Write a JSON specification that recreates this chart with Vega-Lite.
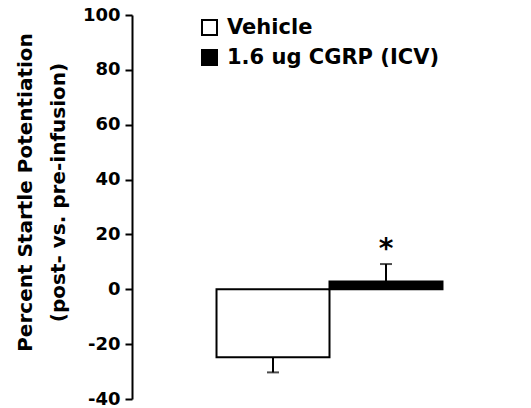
{
  "$schema": "https://vega.github.io/schema/vega-lite/v6.json",
  "width": 395,
  "height": 384,
  "autosize": "none",
  "padding": {"left": 132, "top": 15, "right": 4, "bottom": 9},
  "background": "white",
  "config": {
    "view": {"stroke": null},
    "font": "DejaVu Sans"
  },
  "data": {
    "values": [
      {"cat": "all", "group": "Vehicle", "mean": -24.8, "err": -30.3, "sig": ""},
      {"cat": "all", "group": "1.6 ug CGRP (ICV)", "mean": 2.8, "err": 9.2, "sig": "*"}
    ]
  },
  "encoding": {
    "x": {"field": "cat", "type": "nominal", "axis": null,
          "scale": {"paddingInner": 0, "paddingOuter": 0.374}},
    "xOffset": {"field": "group", "type": "nominal",
                "sort": ["Vehicle", "1.6 ug CGRP (ICV)"],
                "scale": {"paddingInner": 0, "paddingOuter": 0}}
  },
  "layer": [
    {
      "mark": {"type": "bar", "stroke": "black", "strokeWidth": 2},
      "encoding": {
        "y": {"field": "mean", "type": "quantitative",
              "scale": {"domain": [-40, 100], "nice": false, "zero": false},
              "axis": {
                "values": [-40, -20, 0, 20, 40, 60, 80, 100],
                "labelExpr": "replace(datum.label, '\u2212', '-')",
                "grid": false,
                "domainColor": "black", "domainWidth": 2,
                "tickColor": "black", "tickWidth": 2, "tickSize": 7,
                "labelFont": "DejaVu Sans", "labelFontWeight": "bold", "labelFontSize": 18,
                "labelColor": "black", "labelPadding": 5,
                "title": ["Percent Startle Potentiation", "(post- vs. pre-infusion)"],
                "titleFont": "DejaVu Sans", "titleFontWeight": "bold", "titleFontSize": 20,
                "titleColor": "black", "titleLineHeight": 33,
                "titleAngle": -90, "titleBaseline": "top", "titleAlign": "center",
                "titleX": -117, "titleY": 177
              }},
        "fill": {"field": "group", "type": "nominal",
                  "scale": {"domain": ["Vehicle", "1.6 ug CGRP (ICV)"], "range": ["white", "black"]},
                  "legend": {
                    "title": null, "orient": "none", "legendX": 67, "legendY": 2,
                    "symbolType": "square", "symbolSize": 225,
                    "symbolStrokeColor": "black", "symbolStrokeWidth": 2,
                    "labelFont": "DejaVu Sans", "labelFontWeight": "bold", "labelFontSize": 21,
                    "labelColor": "black", "labelOffset": 7, "rowPadding": 7, "padding": 0,
                    "labelLimit": 400
                  }}
      }
    },
    {
      "mark": {"type": "rule", "color": "black", "strokeWidth": 2},
      "encoding": {"y": {"field": "mean", "type": "quantitative"}, "y2": {"field": "err"}}
    },
    {
      "mark": {"type": "tick", "color": "black", "thickness": 2, "size": 12},
      "encoding": {"y": {"field": "err", "type": "quantitative"}}
    },
    {
      "mark": {"type": "text", "fontSize": 28, "fontWeight": "bold", "baseline": "alphabetic", "dy": -6, "color": "black"},
      "encoding": {"y": {"field": "err", "type": "quantitative"}, "text": {"field": "sig"}}
    },
    {
      "mark": {"type": "rule", "color": "black", "strokeWidth": 2},
      "encoding": {"y": {"datum": 0}}
    }
  ]
}
